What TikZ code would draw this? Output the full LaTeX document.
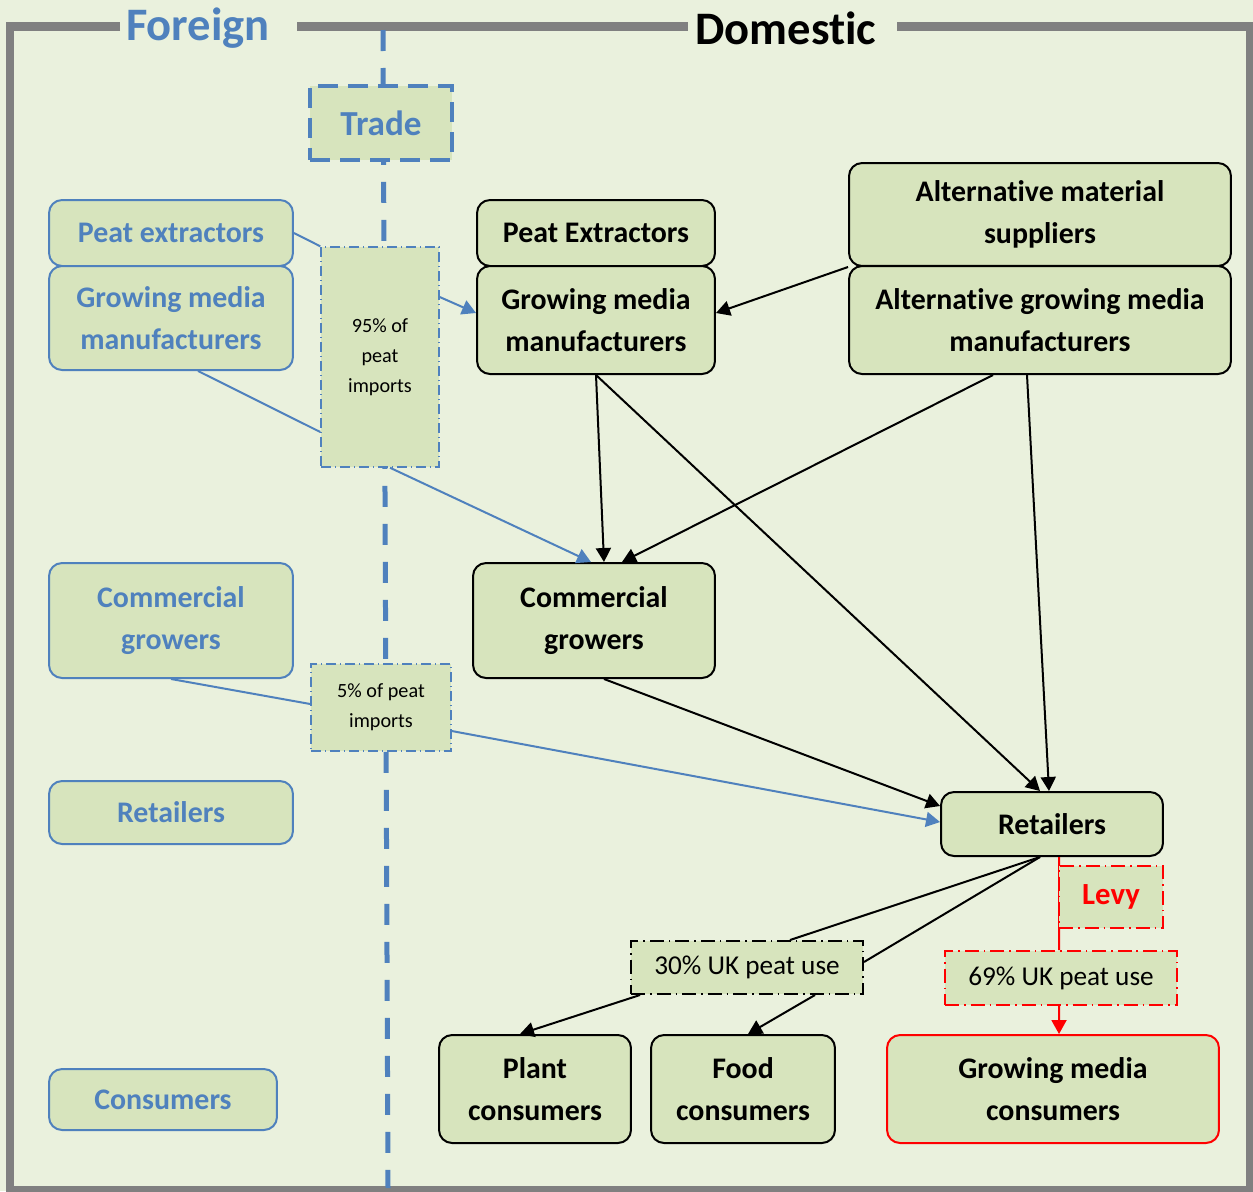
\documentclass[tikz,border=0pt]{standalone}
\usepackage{fontspec}
\setmainfont{Carlito}[Ligatures=NoCommon]
\usetikzlibrary{arrows.meta,calc}
\definecolor{bgc}{RGB}{234,241,221}
\definecolor{boxc}{RGB}{215,228,189}
\definecolor{bluec}{RGB}{79,129,189}
\definecolor{grayc}{RGB}{128,128,128}
\definecolor{redc}{RGB}{255,0,0}
\tikzset{
  basebox/.style={fill=boxc, rounded corners=0.26cm, line width=0.04cm, align=center,
    inner sep=0pt, font=\fontsize{17}{24}\selectfont\bfseries},
  fbox/.style={basebox, draw=bluec, text=bluec},
  dbox/.style={basebox, draw=black, text=black},
  rbox/.style={basebox, draw=redc, text=black},
  lab/.style={fill=boxc, align=center, inner sep=0pt},
  bconn/.style={draw=bluec, line width=0.04cm},
  kconn/.style={draw=black, line width=0.04cm},
  rconn/.style={draw=redc, line width=0.04cm},
  tip/.style={-{Triangle[length=0.28cm,width=0.3cm]}},
}
\begin{document}
\begin{tikzpicture}[x=0.02cm,y=-0.02cm]
\useasboundingbox (0,0) rectangle (1253,1191);
\fill[bgc] (0,0) rectangle (1253,1191);
% frame
\draw[grayc, line width=0.17cm] (120,26.5) -- (10,26.5) -- (10,1190) -- (1250,1190) -- (1250,26.5) -- (897,26.5);
\draw[grayc, line width=0.17cm] (297,26.5) -- (688,26.5);
\node[text=bluec, font=\fontsize{26.5}{30}\selectfont\bfseries] (tforeign) at (198,28) {Foreign};
\node[text=black, font=\fontsize{26.5}{30}\selectfont\bfseries] (tdomestic) at (786,28) {Domestic};
% trade line
\coordinate (ltop) at (383,30);
\coordinate (lbot) at (388,1188);
\draw[bluec, line width=0.1cm, dash pattern=on 0.42cm off 0.34cm, dash phase=0.0cm] (ltop) -- (lbot);
% trade box
\node[lab, draw=bluec, line width=0.08cm, dash pattern=on 0.4cm off 0.2cm, minimum width=2.84cm, minimum height=1.48cm,
  text=bluec, font=\fontsize{20}{24}\selectfont\bfseries] (trade) at (381,123) {Trade};
% foreign boxes
\node[fbox, minimum width=4.88cm, minimum height=1.32cm] (fpe) at (171,233) {Peat extractors};
\node[fbox, minimum width=4.88cm, minimum height=2.08cm] (fgm) at (171,318) {Growing media\\manufacturers};
\node[fbox, minimum width=4.88cm, minimum height=2.30cm] (fcg) at (171,620.5) {Commercial\\growers};
\node[fbox, minimum width=4.88cm, minimum height=1.26cm] (fret) at (171,812.5) {Retailers};
\node[fbox, minimum width=4.56cm, minimum height=1.22cm] (fcon) at (163,1099.5) {Consumers};
% import labels
\node[lab, draw=bluec, line width=0.03cm, dash pattern=on 0.2cm off 0.08cm on 0.02cm off 0.08cm,
  minimum width=2.36cm, minimum height=4.4cm, font=\fontsize{11.5}{17}\selectfont] (p95) at (380,357) {95\% of\\peat\\imports};
\node[lab, draw=bluec, line width=0.03cm, dash pattern=on 0.2cm off 0.08cm on 0.02cm off 0.08cm,
  minimum width=2.8cm, minimum height=1.74cm, font=\fontsize{11.5}{17}\selectfont] (p5) at (381,707.5) {5\% of peat\\imports};
% domestic boxes
\node[dbox, minimum width=4.76cm, minimum height=1.32cm] (dpe) at (596,233) {Peat Extractors};
\node[dbox, minimum width=4.76cm, minimum height=2.16cm] (dgm) at (596,320) {Growing media\\manufacturers};
\node[dbox, minimum width=7.64cm, minimum height=2.06cm] (ams) at (1040,214.5) {Alternative material\\suppliers};
\node[dbox, minimum width=7.64cm, minimum height=2.16cm] (agm) at (1040,320) {Alternative growing media\\manufacturers};
\node[dbox, minimum width=4.84cm, minimum height=2.30cm] (dcg) at (594,620.5) {Commercial\\growers};
\node[dbox, minimum width=4.44cm, minimum height=1.28cm] (dret) at (1052,824) {Retailers};
\node[dbox, minimum width=3.84cm, minimum height=2.16cm] (pc) at (535,1089) {Plant\\consumers};
\node[dbox, minimum width=3.68cm, minimum height=2.16cm] (fc) at (743,1089) {Food\\consumers};
\node[rbox, minimum width=6.64cm, minimum height=2.16cm] (gmc) at (1053,1089) {Growing media\\consumers};
% use labels
\node[lab, draw=black, line width=0.04cm, dash pattern=on 0.28cm off 0.1cm on 0.03cm off 0.1cm,
  minimum width=4.64cm, minimum height=1.06cm, font=\fontsize{15.5}{18}\selectfont] (l30) at (747,967.5) {\raisebox{-2pt}{30\% UK peat use}};
\node[lab, draw=redc, line width=0.04cm, dash pattern=on 0.28cm off 0.1cm on 0.03cm off 0.1cm,
  minimum width=4.64cm, minimum height=1.08cm, font=\fontsize{15.5}{18}\selectfont] (l69) at (1061,978) {\raisebox{-2pt}{69\% UK peat use}};
% blue connectors
\draw[bconn] (fpe.east) -- (p95.north west);
\draw[bconn, tip] ([yshift=1.2cm]p95.east) -- ([yshift=0.14cm]dgm.west);
\draw[bconn] ([xshift=0.54cm]fgm.south) -- ([yshift=-1.5cm]p95.west);
\draw[bconn, tip] ([xshift=0.2cm]p95.south) -- ([xshift=-0.06cm]dcg.north);
\draw[bconn] (fcg.south) -- ([yshift=0.07cm]p5.west);
\draw[bconn, tip] ([yshift=-0.47cm]p5.east) -- ([yshift=0.04cm]dret.west);
% black connectors
\draw[kconn, tip] (ams.south west) -- ([yshift=0.14cm]dgm.east);
\draw[kconn, tip] (dgm.south) -- ([xshift=0.2cm]dcg.north);
\draw[kconn, tip] (dgm.south) -- ([xshift=-0.24cm]dret.north);
\draw[kconn, tip] ([xshift=-0.94cm]agm.south) -- ([xshift=0.56cm]dcg.north);
\draw[kconn, tip] ([xshift=-0.26cm]agm.south) -- ([xshift=-0.06cm]dret.north);
\draw[kconn, tip] ([xshift=0.2cm]dcg.south) -- ([yshift=0.36cm]dret.west);
\draw[kconn] ([xshift=-0.24cm]dret.south) -- ([xshift=0.86cm]l30.north);
\draw[kconn] ([xshift=-0.24cm]dret.south) -- ([yshift=0.11cm]l30.east);
\draw[kconn, tip] ([xshift=-2.14cm]l30.south) -- ([xshift=-0.3cm]pc.north);
\draw[kconn, tip] ([xshift=1.36cm]l30.south) -- ([xshift=0.1cm]fc.north);
% red connectors
\draw[rconn] ([xshift=0.14cm]dret.south) -- ([xshift=-0.04cm]l69.north);
\node[lab, draw=redc, line width=0.04cm, dash pattern=on 0.28cm off 0.1cm on 0.03cm off 0.1cm,
  minimum width=2.08cm, minimum height=1.24cm, text=redc, font=\fontsize{17.5}{20}\selectfont\bfseries] (levy) at (1111,897) {\raisebox{-2pt}{Levy}};
\draw[rconn, tip] ([xshift=-0.04cm]l69.south) -- ([xshift=0.12cm]gmc.north);
\end{tikzpicture}
\end{document}
